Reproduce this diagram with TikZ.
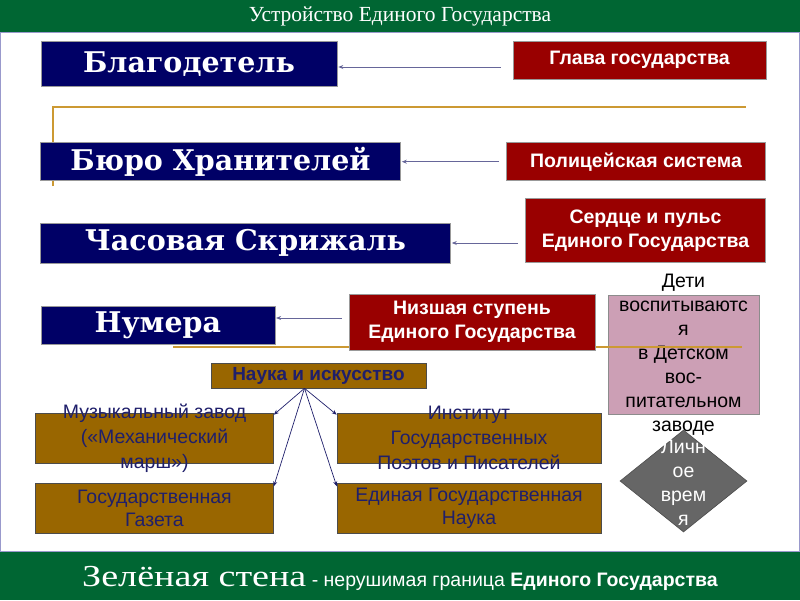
\documentclass[tikz,border=0pt]{standalone}
\usepackage{fontspec}
\setmainfont{Liberation Sans}
\newfontfamily\zagolovokFont{Liberation Serif}
\newfontfamily\stenaFont{Liberation Serif}[FakeStretch=1.25]
\newfontfamily\blokFont{DejaVu Serif}
\usetikzlibrary{arrows.meta, positioning, shapes.geometric, calc}
\definecolor{zelenyjfon}{HTML}{006633}
\definecolor{sinijblok}{HTML}{000066}
\definecolor{krasnyjblok}{HTML}{990000}
\definecolor{korichnblok}{HTML}{996600}
\definecolor{zolotolinija}{HTML}{CC9933}
\definecolor{rozovyjblok}{HTML}{CC9FB5}
\definecolor{serydiamant}{HTML}{666666}
\definecolor{sinijtekst}{HTML}{1F1F6B}
\definecolor{seryjstrelka}{HTML}{666699}
\definecolor{lavandaramka}{HTML}{9999CC}
\colorlet{colFon}{zelenyjfon}
\colorlet{colSiniy}{sinijblok}
\colorlet{colKrasny}{krasnyjblok}
\colorlet{colKorichn}{korichnblok}
\colorlet{colZoloto}{zolotolinija}
\colorlet{colTekst}{sinijtekst}
\colorlet{colStrelka}{seryjstrelka}
\tikzset{
  blokBase/.style={
    rectangle, inner sep=0pt, align=center,
    draw=black!40, line width=0.6pt
  },
  blokSiniy/.style={blokBase, fill=colSiniy, text=white,
    font=\blokFont\bfseries\fontsize{28.5}{32}\selectfont},
  blokKrasny/.style={blokBase, fill=colKrasny, text=white,
    font=\bfseries\fontsize{19.5}{24}\selectfont},
  blokKorichn/.style={blokBase, fill=colKorichn, draw=black!70},
  tekstKorichn/.style={text=colTekst, inner sep=0pt, align=center,
    font=\fontsize{19.5}{25}\selectfont},
  tekstDeti/.style={text=black, inner sep=0pt, align=center,
    font=\fontsize{19.5}{24}\selectfont},
  strelka/.style={-{Stealth[length=5pt, width=4pt]}, line width=0.8pt, colStrelka},
  strelkaNauka/.style={-{Stealth[length=5pt, width=4pt]}, line width=0.7pt, colTekst},
  liniyaZoloto/.style={line width=2pt, colZoloto},
}
\begin{document}
\begin{tikzpicture}[x=1pt, y=-1pt]
    \useasboundingbox (0,0) rectangle (800,600);
    % zagolovok i nizhnjaja polosa
    \fill[colFon] (0,0) rectangle (800,32);
    \fill[colFon] (0,551) rectangle (800,600);
    \draw[lavandaramka, line width=1pt] (0.5,32) rectangle (799.5,551);
    \node[text=white, font=\zagolovokFont\fontsize{21.5}{24}\selectfont] (zagolovok) at (400,16)
      {Устройство Единого Государства};
    \node[text=white, anchor=base] (stena) at (400,586)
      {{\stenaFont\fontsize{30.5}{34}\selectfont Зелёная стена}%
       {\fontsize{19.5}{22}\selectfont\ - нерушимая граница \textbf{Единого Государства}}};
    % zolotaja skoba
    \draw[liniyaZoloto] (53,186) -- (53,107) -- (746,107);
    % vlast'
    \node[blokSiniy, minimum width=296pt, minimum height=45pt] (blagodetel) at (189,64) {Благодетель};
    \node[blokKrasny, minimum width=253pt, minimum height=38pt] (glava) at (639.5,60) {Глава государства};
    \node[blokSiniy, minimum width=360pt, minimum height=38pt] (byuro) at (220.5,161.7) {Бюро Хранителей};
    \node[blokKrasny, minimum width=259pt, minimum height=38pt] (policiya) at (636,161.7) {Полицейская система};
    \node[blokSiniy, minimum width=410pt, minimum height=40pt] (chasovaya) at (245.5,243) {Часовая Скрижаль};
    \node[blokKrasny, minimum width=240pt, minimum height=64pt] (serdtse) at (645.5,230.5)
      {Сердце и пульс\\Единого Государства};
    \node[blokSiniy, minimum width=234pt, minimum height=38pt] (numera) at (157.8,325) {Нумера};
    % lichnoe vremja
    \node[diamond, fill=serydiamant, draw=black!70, line width=0.6pt, inner sep=0pt,
      minimum width=127pt, minimum height=102pt] (lichnoe) at (683.5,481) {};
    \node[text=white, align=center, inner sep=0pt, font=\fontsize{19.5}{24}\selectfont]
      (lichnoeTekst) at (683.5,483) {Личн\\ое\\врем\\я};
    % deti
    \node[blokBase, fill=rozovyjblok, draw=black!45, minimum width=151pt, minimum height=119pt,
      label={[tekstDeti]center:{Дети\\воспитываютс\\я\\в Детском\\вос-\\питательном\\заводе}}]
      (detiBox) at (683.5,355) {};
    \draw[liniyaZoloto] (173,347) -- (742,347);
    \node[blokKrasny, minimum width=246pt, minimum height=56pt] (nizshaya) at (472,322)
      {Низшая ступень\\Единого Государства};
    % strelki
    \draw[strelka] ($(glava.west)+(-12,7)$) -- ($(blagodetel.east)+(1,3)$);
    \draw[strelka] ([xshift=-7pt]policiya.west) -- ([xshift=1pt]byuro.east);
    \draw[strelka] ([xshift=-7pt]serdtse.west |- chasovaya.east) -- ([xshift=1pt]chasovaya.east);
    \draw[strelka] ($(nizshaya.west)+(-7,-4)$) -- ($(numera.east)+(1,-7)$);
    % nauka i iskusstvo
    \node[blokKorichn, minimum width=215pt, minimum height=25pt, text=colTekst,
      font=\bfseries\fontsize{19}{22}\selectfont] (nauka) at (318.5,375.5) {Наука и искусство};
    \node[blokKorichn, minimum width=238pt, minimum height=50pt,
      label={[tekstKorichn]center:{Музыкальный завод\\(«Механический\\марш»)}}]
      (muzZavod) at (154.5,438) {};
    \node[blokKorichn, minimum width=264pt, minimum height=50pt,
      label={[tekstKorichn]center:{Институт\\Государственных\\Поэтов и Писателей}}]
      (institut) at (469,438) {};
    \node[blokKorichn, minimum width=238pt, minimum height=50pt, below=20pt of muzZavod,
      label={[tekstKorichn, font=\fontsize{19.5}{23}\selectfont]center:{Государственная\\Газета}}]
      (gazeta) {};
    \node[blokKorichn, minimum width=264pt, minimum height=50pt, below=20pt of institut,
      label={[tekstKorichn, font=\fontsize{19.5}{23}\selectfont]center:{Единая Государственная\\Наука}}]
      (naukaEd) {};
    \draw[strelkaNauka] ([xshift=-14pt]nauka.south) -- ([yshift=-2pt]muzZavod.north east);
    \draw[strelkaNauka] ([xshift=-14pt]nauka.south) -- ([yshift=-3pt]gazeta.north east);
    \draw[strelkaNauka] ([xshift=-14pt]nauka.south) -- ([yshift=-2pt]institut.north west);
    \draw[strelkaNauka] ([xshift=-14pt]nauka.south) -- ([yshift=-3pt]naukaEd.north west);
\end{tikzpicture}
\end{document}
